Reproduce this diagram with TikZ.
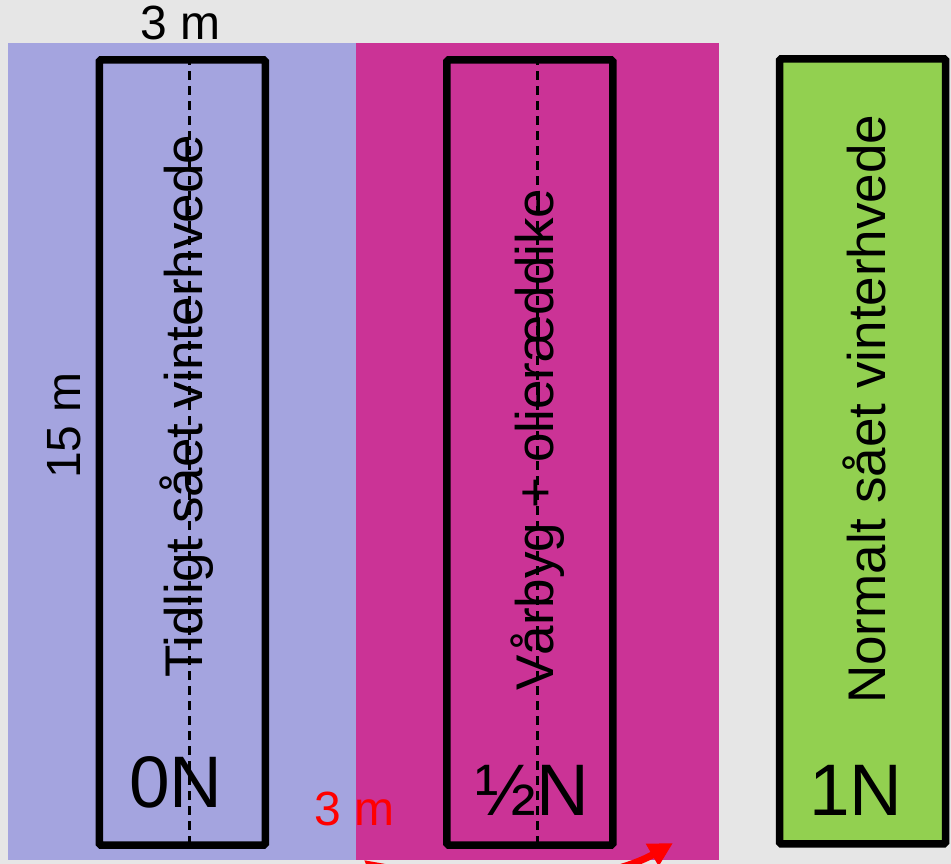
\documentclass[tikz,border=0pt]{standalone}
\usepackage{fontspec}
\setmainfont{Liberation Sans}
\usetikzlibrary{arrows.meta}

\definecolor{bggray}{HTML}{E6E6E6}
\definecolor{earlyblue}{HTML}{A4A4DF}
\definecolor{springpink}{HTML}{CB3396}
\definecolor{normalgreen}{HTML}{92D050}

\begin{document}
\begin{tikzpicture}[x=1pt, y=-1pt,
    plotbox/.style={draw=black, line width=7.5pt, rounded corners=1.5pt, inner sep=0pt,
        minimum width=166pt, minimum height=785pt},
    midline/.style={draw=black, line width=2.6pt, dash pattern=on 9pt off 6pt},
    croplabel/.style={rotate=90, anchor=base west, inner sep=0pt, font=\fontsize{53}{60}\selectfont},
    nlabel/.style={anchor=base, inner sep=0pt, font=\fontsize{73}{80}\selectfont},
    dimlabel/.style={inner sep=0pt, font=\fontsize{48}{54}\selectfont}]

    % Page
    \fill[bggray] (0,0) rectangle (951,864);
    \useasboundingbox (0,0) rectangle (951,864);
    \clip (0,0) rectangle (951,864);

    % Strips
    \fill[earlyblue] (8,43) rectangle (356,860);
    \fill[springpink] (356,43) rectangle (719,860);

    % Plots
    \node[plotbox] (plotzero) at (182.3,452.5) {};
    \node[plotbox] (plothalf) at (529.9,452.5) {};
    \node[plotbox, fill=normalgreen] (plotfull) at (862.5,451.3) {};

    % Middle lines
    \draw[midline] ([xshift=7pt]plotzero.north) -- ([xshift=7pt]plotzero.south);
    \draw[midline] ([xshift=7.5pt]plothalf.north) -- ([xshift=7.5pt]plothalf.south);

    % Crop texts
    \node[croplabel] (cropzero) at (202,678) {Tidligt sået vinterhvede};
    \node[croplabel] (crophalf) at (553,691) {Vårbyg + olieræddike};
    \node[croplabel] (cropfull) at (885,704) {Normalt sået vinterhvede};

    % Nitrogen levels
    \node[nlabel] (nzero) at (176,807) {0N};
    \node[nlabel] (nhalf) at (532,815) {½N};
    \node[nlabel] (nfull) at (856,815) {1N};

    % Dimensions
    \node[dimlabel, anchor=base] (dimwidth) at (181,40) {3 m};
    \node[dimlabel, rotate=90, anchor=base west] (dimlength) at (80,479) {15 m};
    \node[dimlabel, anchor=base, text=red] (dimstrip) at (355,825) {3 m};

    % Red arrow
    \coordinate (arrowleft) at (364,860);
    \coordinate (arrowright) at (673,843);
    \draw[red, line width=7pt, {Triangle[length=24pt,width=24pt]}-{Triangle[length=24pt,width=24pt]}]
        (arrowleft) .. controls (420,905) and (600,885) .. (arrowright);
\end{tikzpicture}
\end{document}
